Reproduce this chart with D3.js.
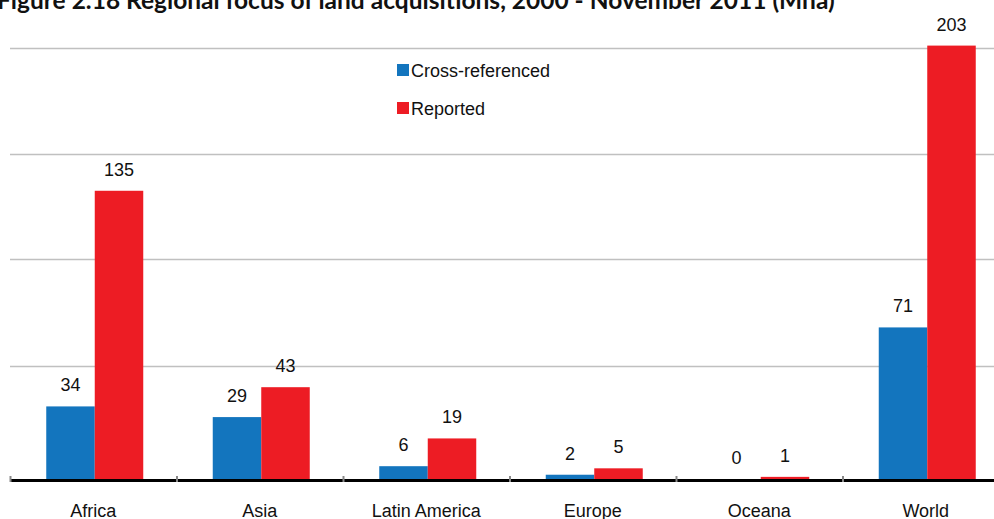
<!DOCTYPE html>
<html>
<head>
<meta charset="utf-8">
<script src="https://cdn.jsdelivr.net/npm/d3@7"></script>
<style>
  body { margin: 0; background: #fff; overflow: hidden; }
  svg { display: block; }
</style>
</head>
<body>
<div id="chart"></div>
<script>
const regions = ["Africa", "Asia", "Latin America", "Europe", "Oceana", "World"];
const crossReferenced = [34, 29, 6, 2, 0, 71];
const reported = [135, 43, 19, 5, 1, 203];
const seriesNames = ["Cross-referenced", "Reported"];
const gridValues = [53, 103, 152, 202];

const width = 994, height = 519;
const colors = ["#1375be", "#ed1c24"];

const svg = d3.select("#chart")
  .append("svg")
  .attr("width", width)
  .attr("height", height);

const x = d3.scaleBand()
  .domain(regions)
  .range([10, 1009]);

const x1 = d3.scaleBand()
  .domain(seriesNames)
  .range([0, 97]);

const y = d3.scaleLinear()
  .domain([0, 210])
  .range([479, 479 - 210 * 2.135]);

// title, cut at the top like the source
svg.append("text")
  .attr("x", -3)
  .attr("y", 9)
  .attr("font-family", "Lato")
  .attr("font-weight", "bold")
  .attr("font-size", 24.5)
  .attr("fill", "#111")
  .text("Figure 2.18  Regional focus of land acquisitions, 2000 - November 2011 (Mha)");

// gridlines
svg.append("g")
  .selectAll("line")
  .data(gridValues)
  .join("line")
  .attr("x1", 10)
  .attr("x2", width)
  .attr("y1", d => Math.round(y(d)) + 0.5)
  .attr("y2", d => Math.round(y(d)) + 0.5)
  .attr("stroke", "#c0c0c0")
  .attr("stroke-width", 1.5);

const rows = regions.map((r, i) => ({
  region: r,
  values: [crossReferenced[i], reported[i]]
}));

const group = svg.append("g")
  .selectAll("g")
  .data(rows)
  .join("g")
  .attr("transform", d => `translate(${x(d.region) + x.bandwidth() / 2 - 47},0)`);

const bars = group.selectAll("g")
  .data(d => d.values.map((v, j) => ({ name: seriesNames[j], value: v, j })))
  .join("g");

bars.append("rect")
  .attr("x", d => x1(d.name))
  .attr("width", x1.bandwidth())
  .attr("y", d => y(d.value))
  .attr("height", d => y(0) - y(d.value))
  .attr("fill", d => colors[d.j]);

bars.append("text")
  .attr("x", d => x1(d.name) + x1.bandwidth() / 2)
  .attr("y", d => y(d.value) - 15)
  .attr("text-anchor", "middle")
  .attr("font-family", "Liberation Sans, Arial, sans-serif")
  .attr("font-size", 18)
  .attr("fill", "#111")
  .text(d => d.value);

// baseline axis
svg.append("line")
  .attr("x1", 10)
  .attr("x2", width)
  .attr("y1", y(0) + 1.5)
  .attr("y2", y(0) + 1.5)
  .attr("stroke", "#000")
  .attr("stroke-width", 3);

// tick marks at category boundaries
svg.append("g")
  .selectAll("line")
  .data(regions)
  .join("line")
  .attr("x1", d => x(d) + 0.5)
  .attr("x2", d => x(d) + 0.5)
  .attr("y1", y(0) - 3)
  .attr("y2", y(0) + 3)
  .attr("stroke", "#888")
  .attr("stroke-width", 2);

// category labels
svg.append("g")
  .selectAll("text")
  .data(regions)
  .join("text")
  .attr("x", d => x(d) + x.bandwidth() / 2)
  .attr("y", 517)
  .attr("text-anchor", "middle")
  .attr("font-family", "Liberation Sans, Arial, sans-serif")
  .attr("font-size", 18)
  .attr("fill", "#111")
  .text(d => d);

// legend
const legend = svg.append("g")
  .attr("transform", "translate(397,64)")
  .selectAll("g")
  .data(seriesNames)
  .join("g")
  .attr("transform", (d, i) => `translate(0,${i * 38})`);

legend.append("rect")
  .attr("width", 12)
  .attr("height", 12)
  .attr("fill", (d, i) => colors[i]);

legend.append("text")
  .attr("x", 14)
  .attr("y", 13)
  .attr("font-family", "Liberation Sans, Arial, sans-serif")
  .attr("font-size", 18)
  .attr("fill", "#111")
  .text(d => d);
</script>
</body>
</html>
